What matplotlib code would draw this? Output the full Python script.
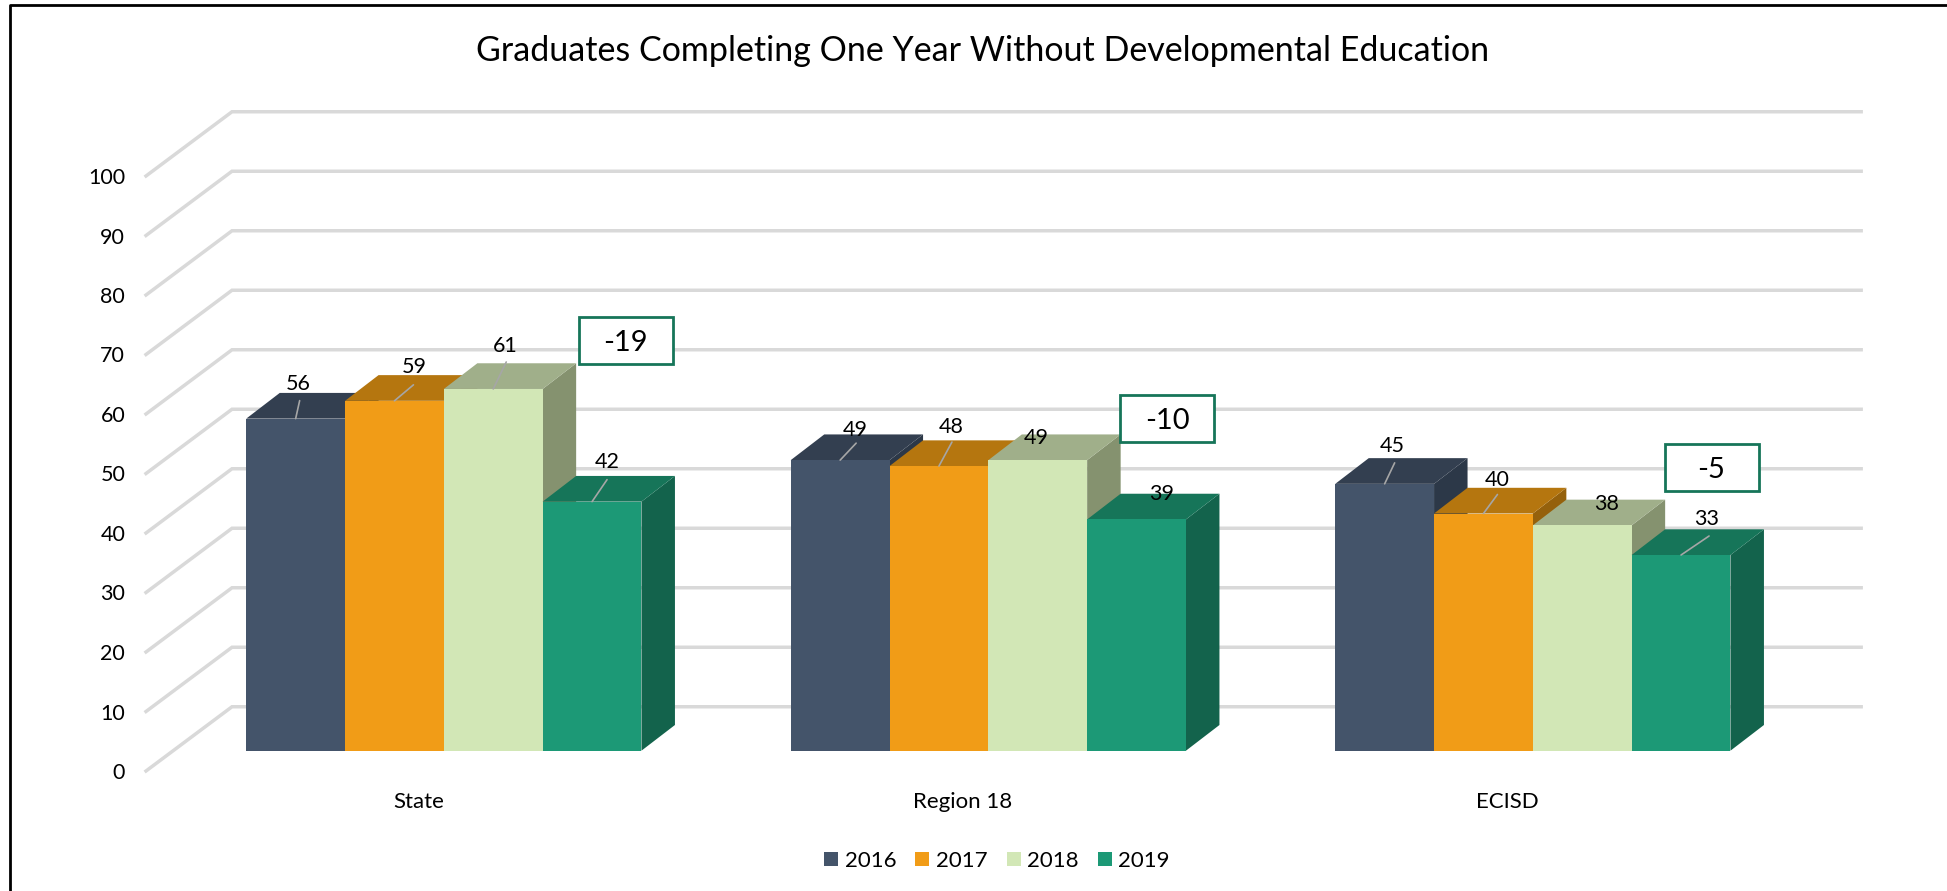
import matplotlib
matplotlib.use("Agg")
import matplotlib.pyplot as plt
from matplotlib.patches import Polygon, Rectangle
from matplotlib.lines import Line2D

plt.rcParams['font.family'] = ['Lato', 'DejaVu Sans']

#%% Data
categories = ["State", "Region 18", "ECISD"]
years = ["2016", "2017", "2018", "2019"]
v2016 = [56, 49, 45]
v2017 = [59, 48, 40]
v2018 = [61, 49, 38]
v2019 = [42, 39, 33]
differences = ["-19", "-10", "-5"]
yticks = list(range(0, 101, 10))
title = "Graduates Completing One Year Without Developmental Education"

#%% Styles (front, top, side)
series = [v2016, v2017, v2018, v2019]
front = ["#44546a", "#f19c17", "#d2e7b6", "#1c9976"]
top = ["#333f50", "#b5760f", "#a0af8a", "#167559"]
side = ["#2c3848", "#95610c", "#85926f", "#13634c"]

W, H = 1947, 891
BAR_W = 98.8 / 544.5
BAR_DX = 33.5 / 544.5
BAR_DY = 25.7 / 5.93

# label offset from top centre of bar, leader end offset (pixels), per category then series
label_off = [[(3, 35), (20, 34), (12, 43), (15, 40)],
             [(15, 30), (12, 39), (-1, 22), (25, 25)],
             [(8, 38), (14, 34), (24, 21), (26, 36)]]
leader_off = [[(4, 18), (19, 16), (13, 27), (15, 22)],
              [(16, 17), (13, 24), None, None],
              [(10, 21), (14, 19), None, (28, 19)]]


def axes_px(fig, left, right, bottom, top_):
    return fig.add_axes([left / W, 1 - bottom / H, (right - left) / W, (bottom - top_) / H])


fig = plt.figure(figsize=(W / 100, H / 100), dpi=100)
fig.patch.set_facecolor("white")

# outer frame of the picture, only left and top are in view
fig.add_artist(Line2D([10 / W, 10 / W, 1], [0, 1 - 5 / H, 1 - 5 / H], color="black", lw=2))
fig.text(983 / W, 1 - 51 / H, title, ha="center", va="center", fontsize=24.5)

#%% Wall axis: grid and tick labels
wall = axes_px(fig, 146, 1779.5, 771, 176)
wall.set_xlim(-0.5, 2.5)
wall.set_ylim(0, 100)
wall.patch.set_alpha(0)
for s in wall.spines.values():
    s.set_visible(False)
wall.set_xticks(range(len(categories)), categories)
wall.set_yticks(yticks)
wall.tick_params(axis="x", length=0, pad=15, labelsize=16)
wall.tick_params(axis="y", length=0, pad=15, labelsize=15.5)
for v in yticks:
    wall.plot([-0.5, -0.342, 2.65], [v, v + 10.8, v + 10.8], color="#d9d9d9", lw=2.5,
              clip_on=False, solid_joinstyle="miter", zorder=1)

#%% Bars
ax = axes_px(fig, 171.6, 1805.1, 750.7, 157.7)
ax.set_xlim(-0.5, 2.5)
ax.set_ylim(0, 100)
ax.patch.set_alpha(0)
ax.axis("off")

handles = []
for c in range(len(categories)):
    for s, vals in enumerate(series):
        x0 = c - 2 * BAR_W + s * BAR_W
        v = vals[c]
        z = 3 + s * 0.1
        ax.add_patch(Polygon([(x0 + BAR_W, 0), (x0 + BAR_W + BAR_DX, BAR_DY),
                              (x0 + BAR_W + BAR_DX, v + BAR_DY), (x0 + BAR_W, v)],
                             fc=side[s], ec="none", zorder=z, clip_on=False))
        ax.add_patch(Polygon([(x0, v), (x0 + BAR_DX, v + BAR_DY),
                              (x0 + BAR_W + BAR_DX, v + BAR_DY), (x0 + BAR_W, v)],
                             fc=top[s], ec="none", zorder=z, clip_on=False))
        b = ax.bar(x0, v, BAR_W, align="edge", color=front[s], zorder=z + 0.01)
        if c == 0:
            handles.append(b[0])
        cx = x0 + BAR_W / 2
        if leader_off[c][s] is not None:
            ax.annotate("", xy=(cx, v), xytext=leader_off[c][s], textcoords="offset pixels",
                        arrowprops=dict(arrowstyle="-", color="#a6a6a6", lw=1.2,
                                        shrinkA=0, shrinkB=0), zorder=6)
        ax.annotate(str(v), xy=(cx, v), xytext=label_off[c][s], textcoords="offset pixels",
                    ha="center", va="center", fontsize=15.5, color="black", zorder=7)

#%% Difference boxes
box_px = [(578.6, 316.6), (1120, 395), (1664.5, 444)]
for (bx, by), txt in zip(box_px, differences):
    fig.add_artist(Rectangle((bx / W, 1 - (by + 47) / H), 94 / W, 47 / H, fc="white",
                             ec="#167559", lw=2, transform=fig.transFigure, zorder=8))
    fig.text((bx + 47) / W, 1 - (by + 26) / H, txt, ha="center", va="center",
             fontsize=21, zorder=9)

#%% Legend
fig.legend(handles, years, ncol=4, loc="center", bbox_to_anchor=(997 / W, 1 - 861 / H),
           frameon=False, fontsize=16, handlelength=0.63, handleheight=0.63,
           handletextpad=0.3, columnspacing=0.85, borderpad=0)

fig.savefig("out.png", dpi=100)
